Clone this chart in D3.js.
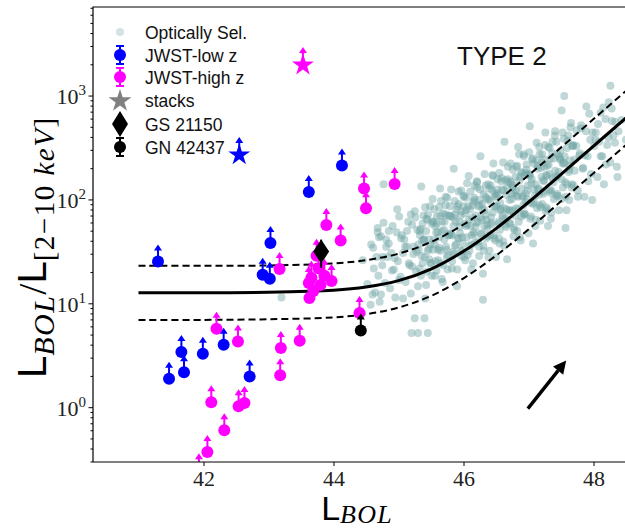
<!DOCTYPE html>
<html>
<head>
<meta charset="utf-8">
<script src="https://cdn.jsdelivr.net/npm/d3@7"></script>
<style>
  body { margin: 0; background: #fff; }
</style>
</head>
<body>
<svg id="chart" width="625" height="530"></svg>
<script>
// ---- data ----
// optically selected AGN: [log L_BOL, log10(L_BOL/L_X)]
var optical = [
  [43.2,1.06],[44.57,0.99],[44.6,1.09],[45.2,0.72],[45.3,0.72],[45.45,0.72],[45.25,0.86],[45.4,0.86],
  [44.7,1.64],[44.75,1.45],[46.3,1.04],[47.55,3.0],[48.26,3.1],
  [44.45,1.42],[44.52,1.19],[44.58,1.57],[44.62,1.34],[44.68,1.73],[44.73,1.09],[44.77,2.15],
  [44.81,1.55],[44.85,1.70],[44.9,1.32],[44.94,1.44],[44.98,1.91],
  [45.01,1.23],[45.04,1.63],[45.07,1.05],[45.1,1.55],[45.13,1.70],[45.16,1.39],[45.19,1.86],
  [45.21,1.36],[45.23,1.55],[45.26,1.83],[45.28,1.50],[45.3,1.17],[45.33,1.66],[45.35,2.13],[45.37,1.39],[45.39,1.62],
  [45.41,1.05],[45.43,1.82],[45.45,1.51],[45.47,1.62],[45.49,1.39],[45.51,1.77],[45.53,1.52],[45.55,1.91],[45.56,1.27],[45.58,1.69],[45.59,1.84],
  [45.61,1.52],[45.62,1.64],[45.64,2.11],[45.65,1.39],[45.67,1.79],[45.68,1.21],[45.7,1.71],[45.72,1.86],[45.73,1.55],[45.75,2.02],[45.76,1.47],[45.78,1.66],[45.79,1.94],
  [45.81,1.67],[45.82,1.34],[45.84,1.83],[45.85,2.30],[45.87,1.56],[45.88,1.79],[45.9,1.17],[45.91,1.94],[45.93,1.63],[45.94,1.74],[45.96,1.51],[45.97,1.89],[45.98,1.64],[46.0,2.03],
  [46.01,1.45],[46.02,1.87],[46.04,2.02],[46.05,1.64],[46.06,1.76],[46.08,2.23],[46.09,1.51],[46.1,1.91],[46.12,1.33],[46.13,1.83],[46.15,1.98],[46.16,1.67],[46.17,2.14],[46.18,1.59],[46.2,1.78],
  [46.21,2.12],[46.22,1.79],[46.24,1.46],[46.25,1.95],[46.26,2.42],[46.27,1.68],[46.29,1.91],[46.3,1.29],[46.31,2.06],[46.32,1.75],[46.34,1.86],[46.35,1.63],[46.36,2.01],[46.37,1.76],[46.38,2.15],[46.4,1.51],
  [46.41,1.99],[46.42,2.14],[46.43,1.76],[46.45,1.88],[46.46,2.35],[46.47,1.63],[46.49,2.03],[46.5,1.45],[46.51,1.95],[46.52,2.10],[46.54,1.79],[46.55,2.26],[46.56,1.71],[46.57,1.90],[46.58,2.18],[46.6,1.85],
  [46.61,1.60],[46.62,2.09],[46.63,2.56],[46.65,1.82],[46.66,2.05],[46.67,1.43],[46.68,2.20],[46.7,1.89],[46.71,2.00],[46.72,1.77],[46.74,2.15],[46.75,1.90],[46.76,2.29],[46.77,1.65],[46.78,2.07],[46.8,2.22],
  [46.81,1.92],[46.82,2.04],[46.84,2.51],[46.85,1.79],[46.86,2.19],[46.88,1.61],[46.89,2.11],[46.9,2.26],[46.92,1.95],[46.93,2.42],[46.94,1.87],[46.96,2.06],[46.97,2.34],[46.98,2.01],[47.0,1.68],
  [47.01,2.24],[47.02,2.71],[47.04,1.97],[47.05,2.20],[47.07,1.58],[47.08,2.35],[47.1,2.04],[47.11,2.15],[47.13,1.92],[47.14,2.30],[47.16,2.05],[47.17,2.44],[47.18,1.80],[47.2,2.22],
  [47.21,2.44],[47.23,2.06],[47.24,2.18],[47.26,2.65],[47.27,1.93],[47.29,2.33],[47.3,1.75],[47.32,2.25],[47.34,2.40],[47.35,2.09],[47.37,2.56],[47.39,2.01],
  [47.41,2.28],[47.43,2.56],[47.45,2.23],[47.47,1.90],[47.49,2.39],[47.51,2.86],[47.53,2.12],[47.55,2.35],[47.57,1.73],[47.59,2.50],
  [47.62,2.27],[47.64,2.38],[47.67,2.15],[47.69,2.53],[47.71,2.28],[47.74,2.67],[47.76,2.03],[47.79,2.45],
  [47.81,2.69],[47.84,2.31],[47.87,2.43],[47.89,2.90],[47.92,2.18],[47.95,2.58],[47.98,2.00],
  [48.03,2.58],[48.07,2.73],[48.11,2.42],[48.15,2.89],[48.19,2.34],
  [48.23,2.60],[48.28,2.88],[48.33,2.55],[48.37,2.22],[48.43,2.77],[48.5,2.58],
  // dense core
  [45.31,1.52],[45.34,1.72],[45.325,1.34],[45.37,1.77],[45.355,1.46],[45.39,1.62],
  [45.41,1.93],[45.44,1.31],[45.425,1.70],[45.47,1.43],[45.455,1.86],[45.49,1.57],
  [45.51,1.27],[45.54,1.79],[45.525,2.01],[45.57,1.41],[45.555,1.57],[45.59,1.77],
  [45.61,1.42],[45.64,1.85],[45.625,1.54],[45.67,1.70],[45.655,1.99],[45.69,1.37],
  [45.71,1.79],[45.74,1.52],[45.725,1.95],[45.77,1.66],[45.755,1.33],[45.79,1.85],
  [45.81,2.10],[45.84,1.50],[45.825,1.66],[45.87,1.86],[45.855,1.48],[45.89,1.91],
  [45.91,1.63],[45.94,1.79],[45.925,2.08],[45.97,1.46],[45.955,1.85],[45.99,1.58],
  [46.01,2.04],[46.04,1.75],[46.025,1.42],[46.07,1.94],[46.055,2.16],[46.09,1.56],
  [46.11,1.75],[46.14,1.95],[46.125,1.57],[46.17,2.00],[46.155,1.69],[46.19,1.85],
  [46.21,2.17],[46.24,1.55],[46.225,1.94],[46.27,1.67],[46.255,2.10],[46.29,1.81],
  [46.31,1.51],[46.34,2.03],[46.325,2.25],[46.37,1.65],[46.355,1.81],[46.39,2.01],
  [46.41,1.66],[46.44,2.09],[46.425,1.78],[46.47,1.94],[46.455,2.23],[46.49,1.61],
  [46.51,2.04],[46.54,1.77],[46.525,2.20],[46.57,1.91],[46.555,1.58],[46.59,2.10],
  [46.61,2.36],[46.64,1.76],[46.625,1.92],[46.67,2.12],[46.655,1.74],[46.69,2.17],
  [46.71,1.90],[46.74,2.06],[46.725,2.35],[46.77,1.73],[46.755,2.12],[46.79,1.85],
  [46.81,2.32],[46.84,2.03],[46.825,1.70],[46.87,2.22],[46.855,2.44],[46.89,1.84],
  [46.91,2.04],[46.94,2.24],[46.925,1.86],[46.97,2.29],[46.955,1.98],[46.99,2.14],
  [47.01,2.46],[47.04,1.84],[47.025,2.23],[47.07,1.96],[47.055,2.39],[47.09,2.10],
  [47.11,1.81],[47.14,2.33],[47.125,2.55],[47.17,1.95],[47.155,2.11],[47.19,2.31],
  [47.21,1.96],[47.24,2.39],[47.225,2.08],[47.27,2.24],[47.255,2.53],[47.29,1.91],
  [47.31,2.34],[47.34,2.07],[47.325,2.50],[47.37,2.21],[47.355,1.88],[47.39,2.40],
  [47.41,2.66],[47.44,2.06],[47.425,2.22],[47.47,2.42],[47.455,2.04],[47.49,2.47],
  [47.51,2.20],[47.54,2.36],[47.525,2.65],[47.57,2.03],[47.555,2.42],[47.59,2.15],
  [47.61,2.62],[47.64,2.33],[47.625,2.00],[47.67,2.52],[47.655,2.74],[47.69,2.14],
  // left part of the cloud
  [44.61,1.54],[44.64,1.11],[44.66,1.45],[44.68,1.69],[44.69,1.27],
  [44.71,1.02],[44.73,1.65],[44.75,1.37],[44.77,1.78],[44.79,1.20],
  [44.81,1.62],[44.83,1.45],[44.85,1.58],[44.87,1.15],[44.89,1.49],
  [44.91,1.75],[44.93,1.33],[44.95,1.06],[44.97,1.69],[44.99,1.41],
  [45.01,1.84],[45.03,1.26],[45.05,1.66],[45.07,1.49],[45.09,1.62],
  [45.11,1.21],[45.13,1.55],[45.15,1.79],[45.17,1.37],[45.19,1.10],
  [45.21,1.76],[45.23,1.48],[45.25,1.89],[45.27,1.31],[45.29,1.71],
  // more of the core
  [45.305,1.57],[45.325,1.70],[45.345,1.27],[45.365,1.61],[45.385,1.85],
  [45.405,1.45],[45.425,1.18],[45.445,1.81],[45.465,1.53],[45.485,1.94],
  [45.505,1.39],[45.525,1.79],[45.545,1.62],[45.565,1.75],[45.585,1.32],
  [45.605,1.69],[45.625,1.93],[45.645,1.51],[45.665,1.24],[45.685,1.87],
  [45.705,1.62],[45.725,2.03],[45.745,1.45],[45.765,1.85],[45.785,1.68],
  [45.805,1.84],[45.825,1.41],[45.845,1.75],[45.865,1.99],[45.885,1.57],
  [45.905,1.33],[45.925,1.96],[45.945,1.68],[45.965,2.09],[45.985,1.51],
  [46.005,1.94],[46.025,1.77],[46.045,1.90],[46.065,1.47],[46.085,1.81],
  [46.105,2.08],[46.125,1.66],[46.145,1.39],[46.165,2.02],[46.185,1.74],
  [46.205,2.18],[46.225,1.60],[46.245,2.00],[46.265,1.83],[46.285,1.96],
  [46.305,1.56],[46.325,1.90],[46.345,2.14],[46.365,1.72],[46.385,1.45],
  [46.405,2.11],[46.425,1.83],[46.445,2.24],[46.465,1.66],[46.485,2.06],
  [46.505,1.93],[46.525,2.06],[46.545,1.63],[46.565,1.97],[46.585,2.21],
  [46.605,1.83],[46.625,1.56],[46.645,2.19],[46.665,1.91],[46.685,2.32],
  [46.705,1.78],[46.725,2.18],[46.745,2.01],[46.765,2.14],[46.785,1.71],
  [46.805,2.09],[46.825,2.33],[46.845,1.91],[46.865,1.64],[46.885,2.27],
  [46.905,2.03],[46.925,2.44],[46.945,1.86],[46.965,2.26],[46.985,2.09],
  [47.005,2.25],[47.025,1.82],[47.045,2.16],[47.065,2.40],[47.085,1.98],
  [47.105,1.75],[47.125,2.38],[47.145,2.10],[47.165,2.51],[47.185,1.93],
  [47.205,2.36],[47.225,2.19],[47.245,2.32],[47.265,1.89],[47.285,2.23],
  [47.305,2.51],[47.325,2.09],[47.345,1.82],[47.365,2.45],[47.385,2.17],
  [47.405,2.62],[47.425,2.04],[47.445,2.44],[47.465,2.27],[47.485,2.40],
  [47.505,2.01],[47.525,2.35],[47.545,2.59],[47.565,2.17],[47.585,1.90],
  [47.605,2.57],[47.625,2.29],[47.645,2.70],[47.665,2.12],[47.685,2.52],
  // right end
  [47.71,2.39],[47.735,2.52],[47.76,2.09],[47.785,2.43],
  [47.81,2.72],[47.835,2.30],[47.86,2.03],[47.885,2.66],
  [47.91,2.42],[47.935,2.83],[47.96,2.25],[47.985,2.65],
  [48.01,2.52],[48.035,2.65],[48.06,2.22],[48.085,2.56],
  [48.11,2.84],[48.135,2.42],[48.16,2.15],[48.185,2.78],
  [48.21,2.53],[48.235,2.94],[48.26,2.36],[48.285,2.76],
  [48.31,2.62],[48.335,2.75],[48.36,2.32],[48.385,2.66]
];

// JWST low z (lower limits)
var lowL = [41.30, 41.47, 41.66, 41.70, 41.99, 42.31, 42.71, 42.91, 43.02, 43.03, 43.62, 44.13];
var lowK = [25.5, 1.90, 3.43, 2.19, 3.31, 4.04, 2.00, 19.0, 17.4, 38.4, 119, 214];

// JWST high z (lower limits)
var highL = [42.20, 42.53, 43.19, 43.48, 43.18, 42.12, 42.54, 42.63, 42.32, 42.06, 41.93, 44.40,
             43.17, 43.89, 44.11, 44.47, 44.50, 44.94,
             43.74, 43.77, 43.66, 43.86, 43.63, 43.69, 43.80, 43.97, 43.62];
var highK = [5.75, 4.34, 3.75, 4.41, 2.05, 1.13, 1.03, 1.11, 0.605, 0.375, 0.25, 8.14,
             21.6, 57.5, 40.6, 129, 83, 142,
             29, 22, 17.8, 18.6, 11.4, 13.3, 15.2, 16.6, 15.9];

// stacks
var stackL = [42.55, 43.53];
var stackK = [271, 1986];
var stackColor = ["#0000ff", "#ff00ff"];

// single objects
var gsL = 43.81, gsK = 31.8;     // GS 21150
var gnL = 44.42, gnK = 5.54;     // GN 42437

// bolometric correction relation and its scatter
var relL   = [41, 42, 43, 44, 44.5, 45, 45.5, 46, 46.5, 47, 47.5, 48, 48.5, 48.7];
var relK   = [12.8, 12.8, 12.9, 13.5, 14.5, 16.7, 21.6, 32, 53, 95, 176, 330, 615, 785];
var relUp  = [23.2, 23.2, 23.4, 24.5, 26.3, 30.4, 39.4, 58, 96, 173, 320, 600, 1120, 1430];
var relLow = [7.0, 7.0, 7.1, 7.4, 7.95, 9.2, 11.9, 17.6, 29.1, 52, 97, 181, 338, 431];

// arrow (bottom right)
var arrowL = [46.99, 47.58];
var arrowK = [0.98, 2.85];

var xTicks = [42, 44, 46, 48];
var yMajor = [1, 10, 100, 1000];

var legendLabels = ["Optically Sel.", "JWST-low z", "JWST-high z", "stacks", "GS 21150", "GN 42437"];

// ---- setup ----
var svg = d3.select('#chart');
var pL = 93, pT = 7, pR = 639, pB = 462;

var x = d3.scaleLinear().domain([40.3, 48.7]).range([pL, pR]);
var y = d3.scaleLog().domain([0.3, 7200]).range([pB, pT]);

var serif = "'Liberation Serif', 'DejaVu Serif', serif";
var sans = "'Liberation Sans', Arial, sans-serif";

svg.append('defs').append('clipPath').attr('id', 'clip')
  .append('rect').attr('x', pL).attr('y', pT)
  .attr('width', pR - pL).attr('height', pB - pT);

var plot = svg.append('g').attr('clip-path', 'url(#clip)');

// optically selected cloud
plot.append('g').selectAll('circle')
  .data(optical)
  .enter().append('circle')
    .attr('cx', function(d){ return x(d[0]); })
    .attr('cy', function(d){ return y(Math.pow(10, d[1])); })
    .attr('r', 4)
    .attr('fill', '#6fa3a3')
    .attr('fill-opacity', 0.44);

// relation lines
var line = d3.line()
  .x(function(d){ return x(d[0]); })
  .y(function(d){ return y(d[1]); })
  .curve(d3.curveCatmullRom);

plot.append('path').datum(d3.zip(relL, relK))
  .attr('d', line).attr('fill', 'none')
  .attr('stroke', '#000').attr('stroke-width', 3);
[relUp, relLow].forEach(function(arr){
  plot.append('path').datum(d3.zip(relL, arr))
    .attr('d', line).attr('fill', 'none')
    .attr('stroke', '#000').attr('stroke-width', 2)
    .attr('stroke-dasharray', '7,4');
});

// lower-limit arrow + marker
function upArrow(g, px, py, color, len) {
  len = len || 17;
  g.append('line')
    .attr('x1', px).attr('x2', px).attr('y1', py).attr('y2', py - len + 4)
    .attr('stroke', color).attr('stroke-width', 2);
  g.append('path')
    .attr('d', 'M' + (px - 4) + ',' + (py - len + 6) + 'L' + (px + 4) + ',' + (py - len + 6) + 'L' + px + ',' + (py - len) + 'Z')
    .attr('fill', color);
}

function starPath(cx, cy, R) {
  var p = [];
  for (var i = 0; i < 10; i++) {
    var r = i % 2 ? R * 0.382 : R;
    var a = -Math.PI / 2 + i * Math.PI / 5;
    p.push([cx + r * Math.cos(a), cy + r * Math.sin(a)]);
  }
  return 'M' + p.join('L') + 'Z';
}

var pts = plot.append('g');

lowL.forEach(function(l, i){
  var px = x(l), py = y(lowK[i]);
  upArrow(pts, px, py, '#0000ff');
  pts.append('circle').attr('cx', px).attr('cy', py).attr('r', 6).attr('fill', '#0000ff');
});
highL.forEach(function(l, i){
  var px = x(l), py = y(highK[i]);
  upArrow(pts, px, py, '#ff00ff');
  pts.append('circle').attr('cx', px).attr('cy', py).attr('r', 6).attr('fill', '#ff00ff');
});

stackL.forEach(function(l, i){
  var px = x(l), py = y(stackK[i]);
  upArrow(pts, px, py, stackColor[i], 18);
  pts.append('path').attr('d', starPath(px, py, 11.5)).attr('fill', stackColor[i]);
});

// GS 21150
(function(){
  var px = x(gsL), py = y(gsK);
  pts.append('line').attr('x1', px).attr('x2', px).attr('y1', py - 12).attr('y2', py + 16)
    .attr('stroke', '#000').attr('stroke-width', 2);
  pts.append('path')
    .attr('d', 'M' + px + ',' + (py - 12) + 'L' + (px + 8) + ',' + py + 'L' + px + ',' + (py + 12) + 'L' + (px - 8) + ',' + py + 'Z')
    .attr('fill', '#000');
})();

// GN 42437
(function(){
  var px = x(gnL), py = y(gnK);
  upArrow(pts, px, py, '#000');
  pts.append('circle').attr('cx', px).attr('cy', py).attr('r', 6).attr('fill', '#000');
})();

// arrow at bottom right
(function(){
  var x0 = x(arrowL[0]), y0 = y(arrowK[0]), x1 = x(arrowL[1]), y1 = y(arrowK[1]);
  var ang = Math.atan2(y1 - y0, x1 - x0);
  var hl = 13, hw = 6.5;
  var bx = x1 - hl * Math.cos(ang), by = y1 - hl * Math.sin(ang);
  svg.append('line').attr('x1', x0).attr('y1', y0).attr('x2', bx).attr('y2', by)
    .attr('stroke', '#000').attr('stroke-width', 3.4);
  svg.append('path')
    .attr('d', 'M' + x1 + ',' + y1 +
      'L' + (bx + hw * Math.sin(ang)) + ',' + (by - hw * Math.cos(ang)) +
      'L' + (bx - hw * Math.sin(ang)) + ',' + (by + hw * Math.cos(ang)) + 'Z')
    .attr('fill', '#000');
})();

// ---- axes ----
var xAxis = svg.append('g').attr('transform', 'translate(0,' + pB + ')')
  .call(d3.axisBottom(x).tickValues(xTicks).tickSize(4).tickSizeOuter(0).tickPadding(4));
xAxis.select('.domain').remove();
xAxis.selectAll('text').attr('font-family', serif).attr('font-size', 22).attr('fill', '#222');

var yAxis = svg.append('g').attr('transform', 'translate(' + pL + ',0)');
var minor = [];
[-1, 0, 1, 2, 3].forEach(function(e){
  for (var m = 1; m < 10; m++) {
    var v = m * Math.pow(10, e);
    if (v >= 0.3 && v <= 7200) minor.push(v);
  }
});
yAxis.selectAll('.tk').data(minor).enter().append('line')
  .attr('x1', function(d){ return yMajor.indexOf(d) >= 0 ? -4.5 : -2.5; })
  .attr('x2', 0)
  .attr('y1', function(d){ return y(d); }).attr('y2', function(d){ return y(d); })
  .attr('stroke', '#000').attr('stroke-width', 1);
yMajor.forEach(function(v, i){
  var t = yAxis.append('text').attr('x', -7).attr('y', y(v) + 8)
    .attr('text-anchor', 'end').attr('font-family', serif).attr('fill', '#222');
  t.append('tspan').attr('font-size', 22).text('10');
  t.append('tspan').attr('font-size', 15).attr('dy', -9).text(String(i));
});

// frame
svg.append('path')
  .attr('d', 'M' + pL + ',' + pB + 'V' + pT + 'H' + (pR + 5) + 'M' + pL + ',' + pB + 'H' + (pR + 5))
  .attr('fill', 'none').attr('stroke', '#000').attr('stroke-width', 1.2);

// axis labels
var xl = svg.append('text').attr('x', 357).attr('y', 520).attr('text-anchor', 'middle');
xl.append('tspan').attr('font-family', sans).attr('font-size', 34).text('L');
xl.append('tspan').attr('font-family', serif).attr('font-style', 'italic').attr('font-size', 26)
  .attr('dy', 3).attr('letter-spacing', 1.2).text('BOL');

var yl = svg.append('text').attr('transform', 'translate(46,248) rotate(-90)').attr('text-anchor', 'middle');
yl.append('tspan').attr('font-family', sans).attr('font-size', 40).text('L');
yl.append('tspan').attr('font-family', serif).attr('font-style', 'italic').attr('font-size', 30)
  .attr('dy', 8).attr('letter-spacing', 1.5).text('BOL');
yl.append('tspan').attr('font-family', serif).attr('font-size', 40).attr('dy', -8).text('/');
yl.append('tspan').attr('font-family', sans).attr('font-size', 40).text('L');
yl.append('tspan').attr('font-family', serif).attr('font-size', 29).attr('dy', 8).attr('letter-spacing', 1.5).text('[2\u221210 ');
yl.append('tspan').attr('font-family', serif).attr('font-style', 'italic').attr('font-size', 29).attr('letter-spacing', 1.5).text('keV');
yl.append('tspan').attr('font-family', serif).attr('font-size', 29).text(']');

// TYPE 2
svg.append('text').attr('x', 457).attr('y', 65)
  .attr('font-family', sans).attr('font-size', 26).attr('fill', '#111').text('TYPE 2');

// ---- legend ----
var lg = svg.append('g');
var rowY = [32, 55, 77, 100, 124, 147];
var lx = 120;
lg.append('circle').attr('cx', lx).attr('cy', rowY[0]).attr('r', 4).attr('fill', '#6fa3a3').attr('fill-opacity', 0.3);
function legErr(yc, color) {
  lg.append('line').attr('x1', lx).attr('x2', lx).attr('y1', yc - 9).attr('y2', yc + 9)
    .attr('stroke', color).attr('stroke-width', 2);
  [yc - 9, yc + 9].forEach(function(cy){
    lg.append('line').attr('x1', lx - 4).attr('x2', lx + 4).attr('y1', cy).attr('y2', cy)
      .attr('stroke', color).attr('stroke-width', 2);
  });
  lg.append('circle').attr('cx', lx).attr('cy', yc).attr('r', 6).attr('fill', color);
}
legErr(rowY[1], '#0000ff');
legErr(rowY[2], '#ff00ff');
lg.append('path').attr('d', starPath(lx, rowY[3] + 1, 12)).attr('fill', '#808080');
lg.append('path')
  .attr('d', 'M' + lx + ',' + (rowY[4] - 13) + 'L' + (lx + 8) + ',' + rowY[4] + 'L' + lx + ',' + (rowY[4] + 13) + 'L' + (lx - 8) + ',' + rowY[4] + 'Z')
  .attr('fill', '#000');
legErr(rowY[5], '#000');

lg.selectAll('.lt').data(legendLabels).enter().append('text')
  .attr('x', 145).attr('y', function(d, i){ return rowY[i] + 6.5; })
  .attr('font-family', sans).attr('font-size', 17.5).attr('fill', '#111')
  .text(function(d){ return d; });
</script>
</body>
</html>
